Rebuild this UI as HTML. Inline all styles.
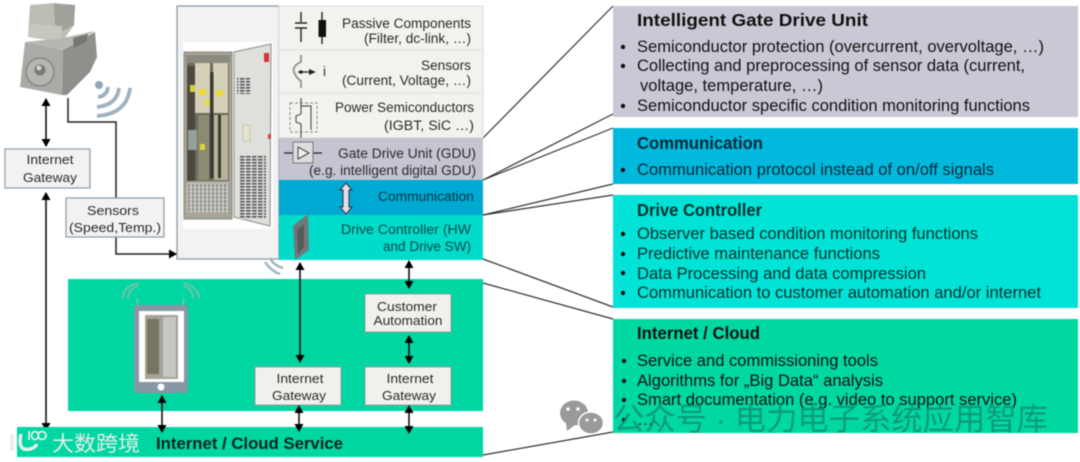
<!DOCTYPE html>
<html><head><meta charset="utf-8"><style>
html,body{margin:0;padding:0;background:#fff;width:1080px;height:462px;overflow:hidden}
svg{display:block;filter:blur(.45px)}
text{font-family:"Liberation Sans","Noto Sans CJK SC",sans-serif;fill:#1a1a1a}
.s{font-size:13.5px;fill:#2a2a2a}
.g{font-size:13px;fill:#2a2a2a}
.b{font-size:16.7px;fill:#111}
.h{font-size:17.5px;font-weight:bold;fill:#111}
</style></head><body>
<svg width="1080" height="462" viewBox="0 0 1080 462" xmlns="http://www.w3.org/2000/svg">
<defs>
<marker id="a" markerWidth="8" markerHeight="9" refX="7" refY="4.5" orient="auto-start-reverse" markerUnits="userSpaceOnUse"><path d="M0 0L8 4.5L0 9Z" fill="#000"/></marker>
<pattern id="grille" width="4" height="4" patternUnits="userSpaceOnUse"><rect width="4" height="4" fill="#c8c8c2"/><rect width="2" height="3" fill="#8b8b86"/></pattern>
<pattern id="vent" width="6" height="3" patternUnits="userSpaceOnUse"><rect width="6" height="3" fill="#d8d8d6"/><rect width="4.500" height="1.600" fill="#57575a"/></pattern>
</defs>
<rect width="1080" height="462" fill="#fff"/>

<!-- leader lines -->
<g stroke="#333" stroke-width="1.200" fill="none">
<path d="M483 138L613 6"/><path d="M483 180L613 114"/><path d="M483 180L613 128"/>
<path d="M483 215L613 184"/><path d="M483 215L613 195"/>
<path d="M483 259L613 307"/><path d="M483 283L613 319"/><path d="M483 455L613 432"/>
</g>

<!-- right panels -->
<rect x="613" y="6" width="465" height="111" fill="#c9c9d5"/>
<rect x="613" y="128" width="465" height="56" fill="#00b9dc"/>
<rect x="613" y="195" width="465" height="113" fill="#00e3d6"/>
<rect x="613" y="319" width="465" height="114" fill="#00d8a2"/>

<text class="h" x="637" y="26" textLength="231" lengthAdjust="spacingAndGlyphs">Intelligent Gate Drive Unit</text>
<g fill="#111"><circle cx="623" cy="47" r="2.200"/><circle cx="623" cy="66" r="2.200"/><circle cx="623" cy="106" r="2.200"/><circle cx="623" cy="170" r="2.200"/>
<circle cx="623" cy="234" r="2.200"/><circle cx="623" cy="254" r="2.200"/><circle cx="623" cy="273" r="2.200"/><circle cx="623" cy="293" r="2.200"/>
<circle cx="624" cy="361" r="2.200"/><circle cx="624" cy="381" r="2.200"/><circle cx="624" cy="400" r="2.200"/><circle cx="624" cy="420" r="2.200"/></g>
<text class="b" x="637" y="52" textLength="407" lengthAdjust="spacingAndGlyphs">Semiconductor protection (overcurrent, overvoltage, …)</text>
<text class="b" x="637" y="71" textLength="388" lengthAdjust="spacingAndGlyphs">Collecting and preprocessing of sensor data (current,</text>
<text class="b" x="640" y="91" textLength="183" lengthAdjust="spacingAndGlyphs">voltage, temperature, …)</text>
<text class="b" x="637" y="111" textLength="393" lengthAdjust="spacingAndGlyphs">Semiconductor specific condition monitoring functions</text>

<text class="h" x="637" y="149" textLength="126" lengthAdjust="spacingAndGlyphs" style="fill:#06283a">Communication</text>
<text class="b" x="637" y="175" textLength="357" lengthAdjust="spacingAndGlyphs" style="fill:#06283a">Communication protocol instead of on/off signals</text>

<text class="h" x="637" y="216" textLength="125" lengthAdjust="spacingAndGlyphs" style="fill:#06302e">Drive Controller</text>
<text class="b" x="637" y="239" textLength="341" lengthAdjust="spacingAndGlyphs" style="fill:#06302e">Observer based condition monitoring functions</text>
<text class="b" x="637" y="259" textLength="243" lengthAdjust="spacingAndGlyphs" style="fill:#06302e">Predictive maintenance functions</text>
<text class="b" x="637" y="279" textLength="289" lengthAdjust="spacingAndGlyphs" style="fill:#06302e">Data Processing and data compression</text>
<text class="b" x="637" y="298" textLength="404" lengthAdjust="spacingAndGlyphs" style="fill:#06302e">Communication to customer automation and/or internet</text>

<text class="h" x="637" y="339" textLength="123" lengthAdjust="spacingAndGlyphs">Internet / Cloud</text>
<text class="b" x="637" y="366" textLength="241" lengthAdjust="spacingAndGlyphs">Service and commissioning tools</text>
<text class="b" x="637" y="386" textLength="246" lengthAdjust="spacingAndGlyphs">Algorithms for „Big Data“ analysis</text>
<text class="b" x="637" y="405" textLength="380" lengthAdjust="spacingAndGlyphs">Smart documentation (e.g. video to support service)</text>
<text class="b" x="637" y="425">…</text>

<!-- watermark right -->
<g fill="#9a9a9a"><ellipse cx="574" cy="413" rx="14" ry="12.500"/><path d="M566 422l1 9 8-6z"/><ellipse cx="591" cy="423" rx="12.500" ry="11" stroke="#fff" stroke-width="1.500"/></g>
<g fill="#fff"><circle cx="568" cy="409" r="1.800"/><circle cx="578" cy="409" r="1.800"/><circle cx="587" cy="420" r="1.500"/><circle cx="595" cy="420" r="1.500"/></g>
<text x="613" y="430" font-size="31" style="fill:#0f8f78;opacity:.85" textLength="435" lengthAdjust="spacingAndGlyphs">公众号 · 电力电子系统应用智库</text>

<!-- cabinet panel -->
<rect x="177" y="6" width="102" height="253" fill="#f2f2f2" stroke="#8b9ba8" stroke-width="1.300"/>
<rect x="183" y="42" width="90" height="187" fill="#fff"/>
<rect x="184" y="52" width="48" height="167" fill="#a8a496" stroke="#8a8a84"/>
<rect x="186" y="55" width="44" height="8" fill="#8a8a80"/>
<rect x="187" y="63" width="42" height="118" fill="#6d6a5c"/>
<rect x="187" y="66" width="8" height="115" fill="#4b493f"/>
<rect x="195" y="63" width="15" height="50" fill="#d5d0b8"/>
<rect x="213" y="63" width="15" height="50" fill="#d5d0b8"/>
<rect x="198" y="115" width="11" height="65" fill="#8d8a74"/>
<rect x="214" y="115" width="14" height="65" fill="#b8b49a"/>
<rect x="188" y="130" width="9" height="20" fill="#95a09a"/>
<rect x="210" y="72" width="3.500" height="106" fill="#3a3a34"/>
<rect x="218" y="115" width="3" height="63" fill="#3a3a34"/>
<rect x="199" y="89" width="7" height="6" fill="#e8dc30"/>
<rect x="216" y="90" width="7" height="6" fill="#e8dc30"/>
<rect x="204" y="100" width="6" height="5" fill="#e8dc30"/>
<rect x="190" y="85" width="5" height="7" fill="#d8d040"/>
<rect x="200" y="144" width="5" height="6" fill="#e0d438"/>
<rect x="187" y="183" width="42" height="30" fill="url(#grille)"/>
<path d="M234 52L271 44L270 226L234 217Z" fill="#dfdfdc" stroke="#9a9a96" stroke-width="1.200"/>
<rect x="264" y="53" width="5" height="9" fill="#d8333a"/>
<rect x="237" y="78" width="13" height="16" fill="url(#vent)"/>
<rect x="243" y="125" width="7" height="16" fill="#e6e3c8" stroke="#aaa" stroke-width=".5"/>
<rect x="240" y="155" width="26" height="64" fill="url(#vent)"/>
<rect x="268" y="134" width="3" height="5" fill="#c44"/>

<!-- stack -->
<rect x="279" y="6" width="204" height="44" fill="#f2f2ef" stroke="#dcdcdc"/>
<rect x="279" y="50" width="204" height="43" fill="#f2f2ef" stroke="#dcdcdc"/>
<rect x="279" y="93" width="204" height="45" fill="#f2f2ef" stroke="#dcdcdc"/>
<rect x="279" y="138" width="204" height="42" fill="#c5c5d2"/>
<rect x="279" y="180" width="204" height="35" fill="#00a9d2"/>
<rect x="279" y="215" width="204" height="45" fill="#00dccb"/>

<g stroke="#222" stroke-width="1.400" fill="none">
<path d="M301 12V22M295 23H307M295 28H307M301 28V42"/><path d="M322 12V44"/>
</g>
<rect x="318.500" y="20" width="7.500" height="17" fill="#111"/>
<path d="M301 55V62Q292 66 294 72Q296 78 301 81V88" fill="none" stroke="#999" stroke-width="2"/>
<path d="M298 72H310" stroke="#222" stroke-width="1.300"/><circle cx="301" cy="72" r="1.800" fill="#222"/><path d="M309 69L316 72L309 75Z" fill="#222"/>
<text class="s" x="323" y="76">i</text>
<rect x="290" y="103" width="27" height="29" fill="none" stroke="#888" stroke-dasharray="3 2"/>
<path d="M301 98V106H311V130M301 106V114L296 116V122L301 124V138M311 113v10" fill="none" stroke="#555" stroke-width="1.200"/>

<path d="M284 153H293M313 153H322" stroke="#222" stroke-width="1.200"/>
<rect x="293" y="142" width="20" height="21" fill="#ddd" stroke="#777"/>
<path d="M298 147V159L309 153Z" fill="#eee" stroke="#444"/>
<path d="M346 183L352 190H349V207H352L346 214L340 207H343V190H340Z" fill="#dde" stroke="#333" stroke-width="1"/>
<path d="M293 226L308 214L309 250L295 260Z" fill="#70787a"/>
<path d="M297 230L304 224V247L298 254Z" fill="#565c5c"/>

<text class="s" x="471" y="28" text-anchor="end" textLength="129" lengthAdjust="spacingAndGlyphs">Passive Components</text>
<text class="s" x="471" y="43" text-anchor="end" textLength="107" lengthAdjust="spacingAndGlyphs">(Filter, dc-link, …)</text>
<text class="s" x="471" y="70" text-anchor="end" textLength="50" lengthAdjust="spacingAndGlyphs">Sensors</text>
<text class="s" x="471" y="85" text-anchor="end" textLength="129" lengthAdjust="spacingAndGlyphs">(Current, Voltage, …)</text>
<text class="s" x="474" y="112" text-anchor="end" textLength="139" lengthAdjust="spacingAndGlyphs">Power Semiconductors</text>
<text class="s" x="474" y="130" text-anchor="end" textLength="90" lengthAdjust="spacingAndGlyphs">(IGBT, SiC  …)</text>
<text class="s" x="476" y="158" text-anchor="end" textLength="138" lengthAdjust="spacingAndGlyphs">Gate Drive Unit (GDU)</text>
<text class="s" x="476" y="175" text-anchor="end" textLength="167" lengthAdjust="spacingAndGlyphs">(e.g. intelligent digital GDU)</text>
<text class="s" x="474" y="201" text-anchor="end" textLength="96" lengthAdjust="spacingAndGlyphs" style="fill:#05384a">Communication</text>
<text class="s" x="471" y="234" text-anchor="end" textLength="130" lengthAdjust="spacingAndGlyphs" style="fill:#064a46">Drive Controller  (HW</text>
<text class="s" x="471" y="251" text-anchor="end" textLength="88" lengthAdjust="spacingAndGlyphs" style="fill:#064a46">and Drive SW)</text>

<!-- motor -->
<path d="M30 5L55 3L75 5L74 25L62 42L28 37Z" fill="#bcbeb4"/>
<path d="M54 4L75 5L74 25L60 32L55 24Z" fill="#9ea09a"/>
<path d="M30 24L62 26L62 42L28 37Z" fill="#c6c8be"/>
<path d="M25 42L63 50L62 95L20 87Z" fill="#a9aba6"/>
<path d="M63 50L95 32L97 57L90 72L67 95L62 95Z" fill="#8e908c"/>
<path d="M63 38L95 31L63 50L25 42Z" fill="#b5b7b2"/>
<path d="M73 38L88 34L86 42L74 48Z" fill="#76786f"/>
<circle cx="40" cy="72" r="14" fill="#b5b6b0" stroke="#8f8f8a" stroke-width="2"/>
<circle cx="40" cy="70" r="5.500" fill="#7a7a76"/>
<circle cx="39" cy="68" r="2.500" fill="#d5d5d0"/>
<!-- wifi motor -->
<circle cx="99" cy="85" r="4" fill="#8fa6b8"/>
<g fill="none" stroke="#9fb1bf" stroke-width="3.800"><path d="M98 97Q107 96 108 87"/><path d="M97 107Q117 105 119 88"/><path d="M97 116Q127 114 130 88"/></g>
<g fill="none" stroke="#a5b4bf" stroke-width="2.500"><path d="M265 262Q271 271 280 274"/><path d="M270 258Q273 265 283 268"/></g>

<!-- left connectors -->
<path d="M46 99V146" stroke="#111" stroke-width="1.600" marker-start="url(#a)" marker-end="url(#a)"/>
<path d="M46 193V430" stroke="#111" stroke-width="1.600" marker-start="url(#a)" marker-end="url(#a)"/>
<path d="M68 98V122H116V198M116 237V254H176" fill="none" stroke="#222" stroke-width="1.500" marker-end="url(#a)"/>
<rect x="5" y="149" width="85" height="39" fill="#f2f2f2" stroke="#8b9ba8" stroke-width="1.200"/>
<text class="g" x="50" y="164" text-anchor="middle" textLength="47" lengthAdjust="spacingAndGlyphs">Internet</text>
<text class="g" x="50" y="182" text-anchor="middle" textLength="54" lengthAdjust="spacingAndGlyphs">Gateway</text>
<rect x="66" y="198" width="98" height="39" fill="#f2f2f2" stroke="#8b9ba8" stroke-width="1.200"/>
<text class="g" x="113" y="215" text-anchor="middle" textLength="52" lengthAdjust="spacingAndGlyphs">Sensors</text>
<text class="g" x="115" y="232" text-anchor="middle" textLength="92" lengthAdjust="spacingAndGlyphs">(Speed,Temp.)</text>

<!-- green areas -->
<rect x="68" y="279" width="415" height="132" fill="#00d6a2"/>
<rect x="17" y="427" width="466" height="30" fill="#00d6a2"/>

<!-- tablet -->
<rect x="134" y="305" width="54" height="88" rx="3" fill="#8797a6"/>
<rect x="139" y="311" width="45" height="71" fill="#fff"/>
<rect x="145" y="315" width="33" height="64" fill="#a5a396"/>
<rect x="147" y="319" width="12" height="55" fill="#77745f"/><rect x="163" y="317" width="13" height="60" fill="#c6c6c2"/>
<circle cx="161" cy="387" r="3.500" fill="#fff"/>
<g fill="none" stroke="#6cc4a8" stroke-width="2"><path d="M128 299Q128 289 138 286"/><path d="M123 298Q123 286 139 283"/><path d="M138 305L137 298"/><path d="M193 299Q193 289 184 286"/><path d="M199 298Q198 286 183 283"/><path d="M183 305L184 298"/></g>

<!-- boxes -->
<g fill="#f1f1ec" stroke="#9a9a9a" stroke-width="1">
<rect x="365" y="294" width="86" height="38"/>
<rect x="255" y="367" width="86" height="38"/>
<rect x="365" y="367" width="86" height="38"/>
</g>
<text class="g" x="407" y="311" text-anchor="middle" textLength="60" lengthAdjust="spacingAndGlyphs">Customer</text>
<text class="g" x="408" y="325" text-anchor="middle" textLength="69" lengthAdjust="spacingAndGlyphs">Automation</text>
<text class="g" x="300" y="383" text-anchor="middle" textLength="47" lengthAdjust="spacingAndGlyphs">Internet</text>
<text class="g" x="299" y="400" text-anchor="middle" textLength="54" lengthAdjust="spacingAndGlyphs">Gateway</text>
<text class="g" x="410" y="383" text-anchor="middle" textLength="47" lengthAdjust="spacingAndGlyphs">Internet</text>
<text class="g" x="409" y="400" text-anchor="middle" textLength="54" lengthAdjust="spacingAndGlyphs">Gateway</text>

<g stroke="#111" stroke-width="1.600">
<path d="M300 263V362" marker-start="url(#a)" marker-end="url(#a)"/>
<path d="M409 261V288" marker-start="url(#a)" marker-end="url(#a)"/>
<path d="M409 336V363" marker-start="url(#a)" marker-end="url(#a)"/>
<path d="M162 396V432" marker-start="url(#a)" marker-end="url(#a)"/>
<path d="M299 406V431" marker-start="url(#a)" marker-end="url(#a)"/>
<path d="M409 406V433" marker-start="url(#a)" marker-end="url(#a)"/>
</g>

<text x="156" y="449" font-size="17" font-weight="bold" style="fill:#07241f" textLength="187" lengthAdjust="spacingAndGlyphs">Internet / Cloud Service</text>

<!-- watermark left -->
<g fill="none" stroke="#e6eee9" stroke-width="3.500"><path d="M12 434V451"/><path d="M21 434Q17 452 30 449Q35 448 37 444"/></g>
<g fill="none" stroke="#e6eee9" stroke-width="1.800"><path d="M29 431V440"/><ellipse cx="35" cy="435.500" rx="3.500" ry="4"/><ellipse cx="42" cy="435.500" rx="4" ry="4"/></g>
<text x="52" y="451" font-size="21" style="fill:#e0eee8" textLength="88" lengthAdjust="spacingAndGlyphs">大数跨境</text>
</svg>
</body></html>
